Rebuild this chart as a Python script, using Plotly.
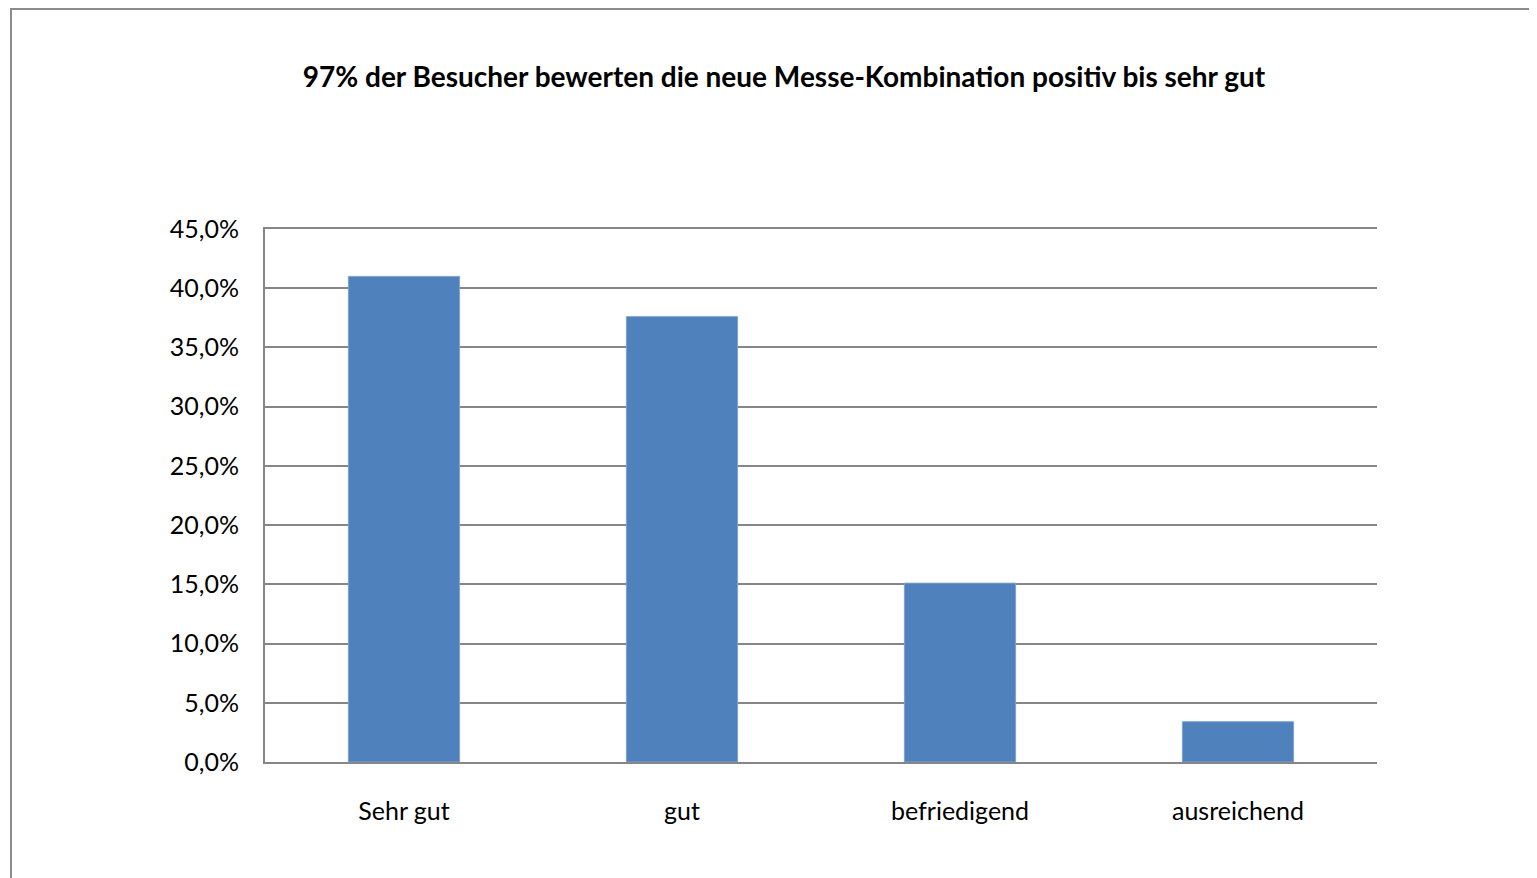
import plotly.graph_objects as go

categories = ["Sehr gut", "gut", "befriedigend", "ausreichend"]
shares = [0.410, 0.376, 0.151, 0.034]

title_text = "97% der Besucher bewerten die neue Messe-Kombination positiv bis sehr gut"

# page body has an 8px margin, so the figure is a bit smaller than the window
W, H = 1529, 870
ml, mr, mt, mb = 257, 160, 221, 116
pw, ph = W - ml - mr, H - mt - mb

fig = go.Figure()
fig.add_trace(
    go.Bar(
        x=categories,
        y=shares,
        marker=dict(color="#4F81BD", line=dict(color="#7EA3CF", width=1)),
        showlegend=False,
    )
)

# outer chart border (cut off on the right/bottom like the original)
fig.add_shape(
    type="rect",
    xref="paper", yref="paper",
    x0=-254 / pw, x1=1 + 200 / pw,
    y0=-(mb + 30) / ph, y1=1 + (mt - 1) / ph,
    line=dict(color="#8C8C8C", width=2),
    layer="below",
)

fig.update_layout(
    width=W,
    height=H,
    margin=dict(l=ml, r=mr, t=mt, b=mb),
    paper_bgcolor="white",
    plot_bgcolor="white",
    separators=",.",
    bargap=0.6,
    font=dict(family="Lato, Carlito, sans-serif", size=25, color="black"),
    title=dict(
        text="<b>" + title_text + "</b>",
        x=(784 - 8) / W, xanchor="center",
        y=1 - 69 / H, yanchor="middle",
        font=dict(size=28, color="black"),
    ),
    xaxis=dict(
        showline=True, mirror=True, linecolor="#868686", linewidth=2,
        ticks="", ticklabelstandoff=26,
        tickfont=dict(size=25),
    ),
    yaxis=dict(
        range=[0, 0.45], dtick=0.05, tickformat=".1%",
        showgrid=True, gridcolor="#868686", gridwidth=1.5,
        showline=True, linecolor="#868686", linewidth=2,
        zeroline=False,
        ticks="", ticklabelstandoff=19,
        tickfont=dict(size=25),
    ),
)

fig.write_html("out.html")
